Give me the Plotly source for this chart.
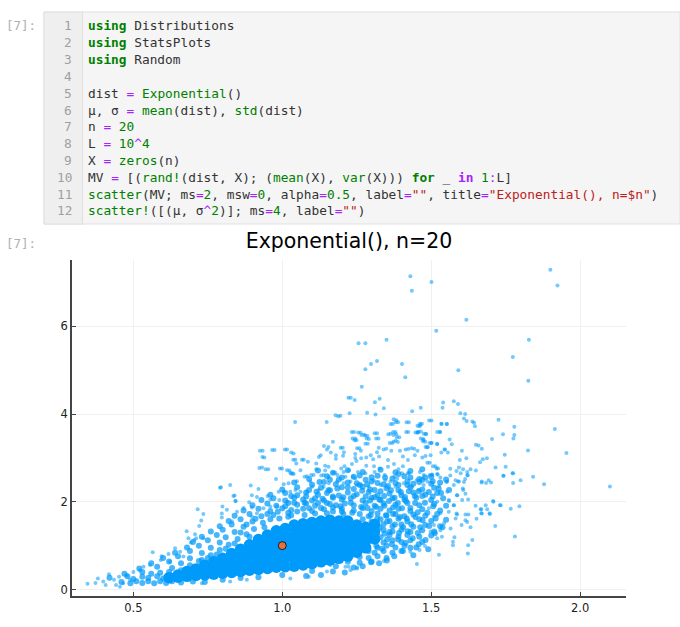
import plotly.graph_objects as go

W, H = 680, 627

# values, (mean, variance)
# solid mass in the middle: too many overlapping dots to read one by one
core_points = [
    (.62,.27),(.65,.28),(.65,.33),(.68,.3),(.68,.41),
    (.71,.32),(.71,.47),(.74,.33),(.74,.46),(.74,.55),(.77,.35),(.77,.5),(.77,.63),
    (.80,.37),(.80,.54),(.80,.71),(.83,.39),(.83,.56),(.83,.73),(.83,.82),
    (.86,.41),(.86,.58),(.86,.75),(.86,.92),(.89,.44),(.89,.61),(.89,.78),(.89,.95),(.89,1.02),
    (.92,.46),(.92,.63),(.92,.8),(.92,.97),(.92,1.14),(.95,.48),(.95,.65),(.95,.82),(.95,.99),(.95,1.16),(.95,1.24),
    (.98,.51),(.98,.68),(.98,.85),(.98,1.02),(.98,1.19),(.98,1.34),
    (1.01,.52),(1.01,.71),(1.01,.88),(1.01,1.05),(1.01,1.22),(1.01,1.39),
    (1.04,.53),(1.04,.7),(1.04,.87),(1.04,1.04),(1.04,1.21),(1.04,1.38),(1.04,1.47),
    (1.07,.56),(1.07,.73),(1.07,.9),(1.07,1.07),(1.07,1.24),(1.07,1.41),(1.07,1.5),
    (1.10,.59),(1.10,.76),(1.10,.93),(1.10,1.1),(1.10,1.27),(1.10,1.44),(1.10,1.53),
    (1.13,.63),(1.13,.8),(1.13,.97),(1.13,1.14),(1.13,1.31),(1.13,1.48),(1.13,1.56),
    (1.16,.67),(1.16,.84),(1.16,1.01),(1.16,1.18),(1.16,1.35),(1.16,1.52),(1.16,1.58),
    (1.19,.71),(1.19,.88),(1.19,1.05),(1.19,1.22),(1.19,1.39),(1.19,1.56),
    (1.22,.76),(1.22,.93),(1.22,1.1),(1.22,1.27),(1.22,1.44),(1.22,1.56),
    (1.25,.85),(1.25,.98),(1.25,1.15),(1.25,1.32),(1.25,1.47),
    (1.28,.95),(1.28,1.1),(1.28,1.27),(1.28,1.42),(1.31,1.15),(1.31,1.32),(1.31,1.48),
]
# thick but still grainy part around the mass
mid_points = [
    (1.12,2.71),(1.17,2.66),(1.22,2.72),(1.27,2.68),(1.33,2.73),(1.38,2.67),(1.43,2.7),(1.47,2.74),
    (1.09,2.52),(1.15,2.58),(1.19,2.51),(1.24,2.57),(1.28,2.5),(1.32,2.59),(1.37,2.53),(1.41,2.58),(1.46,2.52),(1.5,2.57),(1.55,2.51),
    (1.04,2.44),(1.1,2.39),(1.14,2.45),(1.18,2.4),(1.22,2.44),(1.26,2.38),(1.3,2.46),(1.34,2.4),(1.38,2.43),(1.42,2.38),(1.46,2.45),(1.5,2.41),(1.53,2.44),
    (1.0,2.28),(1.05,2.33),(1.09,2.27),(1.13,2.32),(1.16,2.26),(1.2,2.33),(1.24,2.29),(1.27,2.34),(1.31,2.27),(1.35,2.31),(1.39,2.26),(1.43,2.33),(1.47,2.28),(1.51,2.32),(1.56,2.27),
    (.96,2.16),(1.01,2.2),(1.05,2.15),(1.08,2.21),(1.12,2.16),(1.15,2.2),(1.19,2.14),(1.22,2.21),(1.25,2.17),(1.29,2.22),(1.32,2.15),(1.36,2.19),(1.4,2.15),(1.44,2.21),(1.48,2.16),(1.52,2.2),
    (.93,2.04),(.97,2.08),(1.01,2.03),(1.04,2.09),(1.07,2.05),(1.11,2.08),(1.14,2.03),(1.17,2.09),(1.2,2.05),(1.23,2.08),(1.27,2.03),(1.3,2.09),(1.33,2.04),(1.37,2.08),(1.41,2.05),(1.45,2.09),(1.5,2.04),(1.54,2.08),
    (.9,1.92),(.95,1.96),(.98,1.91),(1.02,1.97),(1.05,1.93),(1.08,1.96),(1.11,1.91),(1.15,1.97),(1.18,1.92),(1.21,1.96),(1.24,1.92),(1.28,1.97),(1.31,1.91),(1.34,1.96),(1.38,1.93),(1.42,1.97),(1.46,1.92),(1.51,1.95),(1.55,1.91),
    (.87,1.8),(.92,1.84),(.96,1.79),(1.0,1.85),(1.03,1.81),(1.07,1.84),(1.1,1.79),(1.14,1.83),(1.17,1.78),(1.2,1.84),(1.24,1.8),(1.27,1.85),(1.3,1.79),(1.33,1.84),(1.36,1.8),(1.39,1.84),(1.43,1.79),(1.47,1.83),(1.53,1.8),
    (.84,1.68),(.89,1.72),(.93,1.67),(.97,1.7),(1.02,1.66),(1.26,1.72),(1.29,1.67),(1.32,1.73),(1.35,1.68),(1.38,1.72),(1.41,1.67),(1.44,1.71),(1.48,1.68),(1.52,1.72),
    (.82,1.56),(.86,1.6),(.9,1.55),(.94,1.42),(1.25,1.5),(1.27,1.6),(1.3,1.55),(1.33,1.6),(1.36,1.56),(1.39,1.61),(1.42,1.55),(1.46,1.6),(1.5,1.56),(1.55,1.59),
    (.79,1.44),(.83,1.48),(.87,1.43),(1.28,1.48),(1.31,1.44),(1.34,1.49),(1.37,1.44),(1.4,1.48),(1.44,1.43),(1.48,1.47),(1.53,1.44),
    (.76,1.32),(.8,1.36),(.84,1.31),(.88,1.26),(1.29,1.36),(1.31,1.31),(1.34,1.36),(1.37,1.32),(1.4,1.36),(1.43,1.31),(1.47,1.35),(1.51,1.32),
    (.73,1.2),(.78,1.24),(.81,1.19),(.85,1.15),(1.3,1.24),(1.33,1.19),(1.36,1.24),(1.39,1.2),(1.42,1.24),(1.46,1.2),(1.5,1.23),
    (.7,1.08),(.75,1.12),(.79,1.07),(.82,1.02),(1.31,1.12),(1.34,1.07),(1.37,1.12),(1.4,1.08),(1.43,1.12),(1.47,1.08),
    (.68,.96),(.72,1.0),(.76,.95),(.79,.9),(1.28,1.0),(1.32,.95),(1.35,1.0),(1.38,.96),(1.41,1.0),(1.45,.96),
    (.64,.84),(.69,.88),(.73,.83),(.76,.78),(1.29,.88),(1.31,.84),(1.34,.88),(1.37,.84),(1.4,.88),
    (.6,.72),(.65,.76),(.69,.71),(.73,.67),(1.26,.74),(1.29,.72),(1.32,.76),(1.35,.72),
    (.56,.6),(.62,.64),(.66,.6),(.69,.55),(1.22,.63),(1.26,.61),(1.3,.64),
    (.52,.48),(.58,.52),(.63,.49),(.66,.44),(1.18,.53),(1.24,.5),(1.27,.53),
    (.47,.36),(.53,.4),(.56,.36),(.59,.38),(.62,.4),(1.1,.42),(1.17,.41),(1.21,.39),
    (.42,.27),(.48,.3),(.5,.24),(.53,.29),(.55,.26),(.58,.3),(.6,.25),(1.0,.33),(1.08,.31),(1.13,.33),
    (.46,.17),(.49,.14),(.51,.19),(.53,.15),(.55,.19),(.57,.14),(.59,.19),(.61,.15),(.63,.19),(.66,.16),(.7,.18),(.74,.17),(.8,.22),(.86,.26),(.92,.28),
    (1.335,.93),(1.352,1.14),(1.316,.99),(1.343,1.27),(1.368,1.03),(1.389,1.14),(1.36,1.31),(1.327,1.41),(1.392,1.29),(1.414,1.06),
    (1.421,1.33),(1.378,1.48),(1.352,1.55),(1.406,1.42),(1.438,1.17),(1.455,1.29),(1.433,1.49),(1.463,1.42),(1.395,1.65),(1.372,1.72),
    (1.348,1.69),(1.319,1.62),(1.297,1.7),(1.418,1.62),(1.447,1.65),(1.471,1.58),(1.493,1.45),(1.512,1.28),(1.481,1.13),(1.458,1.03),
    (1.43,.95),(1.405,.88),(1.376,.76),(1.351,.66),(1.325,.6),(1.298,.62),(1.44,.78),(1.49,.92),
    (1.286,1.86),(1.315,1.88),(1.343,1.91),(1.372,1.87),(1.402,1.85),(1.43,1.86),(1.455,1.76),(1.487,1.75),(1.515,1.62),(1.538,1.42),
    (1.507,1.9),(1.479,1.98),(1.446,1.97),(1.415,2.02),(1.388,1.97),(1.358,2.02),(1.326,2.05),(1.295,2.03),(1.265,1.88),(1.235,1.75),
    (1.205,1.72),(1.28,2.12),(1.31,2.1),(1.342,2.13),(1.377,2.09),(1.412,2.11),(1.445,2.13),(1.47,2.13),(1.505,2.12),(1.268,2.25),
    (1.295,2.28),(1.33,2.24),(1.365,2.26),(1.398,2.22),(1.425,2.24),(1.458,2.24),(1.492,2.22),(1.533,2.2),(1.24,2.13),(1.205,2.1),
    (1.17,2.12),(1.135,2.07),(1.1,2.03),(1.075,1.98),(1.04,1.98),(1.01,1.9),(1.12,1.97),(1.16,1.95),(1.195,1.9),(1.23,1.98),
    (1.09,1.85),(1.05,1.78),(1.13,1.86),(1.17,1.87),(1.2,1.78),(1.02,1.75),(.985,1.77),(.95,1.72),(.91,1.61),(.935,1.52),
    (.96,1.6),(.99,1.62),(1.03,1.69),(1.075,1.7),(1.11,1.73),(1.15,1.74),(.88,1.48),(.905,1.38),(.86,1.3),(.89,1.2),
    (.84,1.05),(.81,.93),(.78,.8),(.75,.72),(.72,.65),
    (1.155,2.26),(1.115,2.23),(1.08,2.12),(1.03,2.13),(1.185,2.3),(1.22,2.33),(1.25,2.42),(1.285,2.4),(1.32,2.43),(1.355,2.36),
    (1.39,2.38),(1.42,2.47),(1.44,2.41),(1.47,2.5),(1.505,2.47),(1.525,2.3),(1.16,2.5),(1.125,2.45),(1.2,2.55),(1.26,2.6),
    (1.3,2.56),(1.345,2.55),(1.39,2.63),(1.43,2.55),(1.48,2.55),
]
sample_points = [
    (1.430,7.14),(1.435,6.81),(1.501,7.01),(1.900,7.29),(1.924,6.93),(1.618,6.15),(1.517,5.90),(1.256,5.61),(1.279,5.61),
    (1.350,5.69),(1.828,5.69),(1.774,5.30),(1.298,5.14),(1.318,5.21),(1.279,5.02),(1.402,5.14),(1.413,4.84),(1.591,5.00),
    (1.826,4.76),(1.267,4.62),(1.230,4.37),(1.243,4.32),(1.327,4.35),(1.311,4.27),(1.341,4.13),(1.465,4.14),(1.436,4.06),
    (1.226,4.02),(1.285,4.03),(1.313,3.99),(1.195,3.96),(1.540,4.26),(1.538,4.14),(1.576,4.29),(1.590,4.23),(1.598,4.02),
    (1.614,4.0),(1.610,3.90),(1.619,3.84),(1.638,3.83),(1.644,3.80),(1.647,3.72),(1.726,3.87),(1.779,3.71),(1.915,3.66),
    (1.741,3.54),(1.779,3.52),(1.776,3.44),(1.704,3.43),(1.501,3.85),(1.534,3.78),(1.552,3.77),(1.529,3.59),(1.562,3.42),
    (1.569,3.31),(1.650,3.30),(1.659,3.28),(1.670,3.21),(1.383,3.86),(1.389,3.81),(1.371,3.77),(1.425,3.81),(1.469,3.78),
    (1.464,3.75),(1.461,3.72),(1.423,3.59),(1.455,3.59),(1.454,3.57),(1.465,3.60),(1.483,3.55),(1.380,3.59),(1.383,3.54),
    (1.364,3.55),(1.393,3.47),(1.318,3.56),(1.323,3.44),(1.241,3.59),(1.263,3.57),(1.275,3.53),(1.286,3.50),(1.291,3.43),
    (1.245,3.44),(1.249,3.40),(1.287,3.32),(1.369,3.34),(1.381,3.39),(1.388,3.36),(1.473,3.43),(1.480,3.37),(1.501,3.34),
    (1.520,3.32),(1.489,3.25),(1.545,3.19),(1.203,3.23),(1.259,3.22),(1.324,3.23),(1.349,3.21),(1.423,3.20),(1.443,3.21),
    (1.222,4.37),(1.179,3.97),(1.188,3.95),(1.043,3.82),(1.149,3.82),(1.493,3.85),(1.417,3.81),(1.364,3.77),(1.374,3.88),
    (1.381,3.81),(1.462,3.78),(1.454,3.73),(1.233,3.59),(1.255,3.58),(1.266,3.52),(1.278,3.51),(1.283,3.44),(1.310,3.56),
    (1.315,3.44),(1.356,3.54),(1.372,3.59),(1.374,3.52),(1.385,3.47),(1.416,3.59),(1.447,3.58),(1.457,3.59),(1.475,3.55),
    (1.465,3.44),(1.472,3.38),(1.494,3.34),(1.520,3.59),(1.236,3.44),(1.243,3.40),(1.279,3.32),(1.361,3.34),(1.374,3.37),
    (1.170,3.37),(1.140,3.27),(1.155,3.25),(1.150,3.19),(1.196,3.23),(1.251,3.22),(.925,3.16),(.966,3.18),(1.009,3.19),
    (1.030,3.12),(.933,3.02),(1.037,2.96),(1.066,2.96),(1.086,2.91),(1.047,2.87),(1.129,3.06),(1.123,3.02),(1.163,3.12),
    (1.207,3.13),(1.204,3.05),(1.180,3.06),(1.180,2.98),(1.264,3.16),(1.245,3.09),(1.245,3.00),(1.297,3.06),(1.318,3.13),
    (1.340,3.19),(1.366,3.16),(1.395,3.16),(1.414,3.19),(1.434,3.22),(1.454,3.16),(1.481,3.25),(.923,2.77),(.944,2.74),
    (.992,2.76),(1.016,2.72),(1.030,2.64),(1.061,2.72),(1.114,2.87),(1.114,2.74),(1.144,2.82),(1.155,2.80),(1.144,2.71),
    (1.171,2.66),(1.198,2.76),(1.209,2.81),(1.234,2.86),(1.223,2.72),(1.249,2.93),(1.265,2.99),(1.282,3.01),(1.305,2.97),
    (1.325,3.03),(1.355,2.95),(1.375,2.86),(1.405,3.03),(1.422,2.95),(1.445,3.06),(1.470,3.01),(1.487,2.89),(1.506,2.81),
    (1.282,2.82),(1.308,2.81),(1.327,2.76),(1.355,2.80),(1.390,2.74),(1.405,2.81),(1.422,2.65),(1.097,2.61),(1.075,2.57),
    (.979,2.52),(1.131,2.60),(1.185,2.61),(1.237,2.57),(1.254,2.68),(1.310,2.68),(1.344,2.61),(1.377,2.57),(1.462,2.68),
    (1.495,2.61),(1.518,2.76),
    (1.825,3.17),(1.954,3.11),(1.747,3.07),(1.530,3.59),(1.535,3.77),(1.553,3.77),(1.501,3.34),(1.520,3.31),(1.534,3.12),
    (1.546,3.19),(1.556,3.12),(1.603,3.16),(1.618,2.99),(1.596,2.95),(1.687,2.99),(1.673,2.97),(1.664,2.90),(1.716,2.78),
    (1.750,2.80),(1.773,2.65),(1.742,2.59),(1.842,2.57),(1.800,2.49),(1.775,2.43),(1.879,2.40),(2.100,2.35),(1.693,2.49),
    (1.670,2.46),(1.684,2.43),(1.701,2.44),(1.650,2.71),(1.632,2.74),(1.607,2.74),(1.593,2.78),(1.585,2.70),(1.564,2.75),
    (1.623,2.60),(1.621,2.68),(1.564,2.60),(1.614,2.52),(1.610,2.45),(1.582,2.49),(1.593,2.46),(1.551,2.45),(1.576,2.38),
    (1.606,2.30),(1.615,2.18),(1.587,2.15),(1.624,2.05),(1.604,2.04),(1.560,2.02),(1.708,2.02),(1.733,1.92),(1.649,1.91),
    (1.683,1.92),(1.796,1.90),(1.767,1.84),(1.668,1.83),(1.688,1.83),(1.670,1.73),(1.697,1.72),(1.615,1.71),(1.587,1.71),
    (1.652,1.61),(1.576,1.92),(1.514,2.81),(1.523,2.76),(1.503,2.62),(1.520,2.63),(1.495,2.89),(1.481,3.04),(1.498,3.06),
    (1.486,3.24),(1.475,3.41),(1.482,3.54),
    (1.743,2.59),(1.775,2.65),(1.669,2.44),(1.731,1.92),(1.709,2.0),(1.666,1.83),(1.668,1.74),(1.696,1.74),(1.625,1.71),
    (1.715,1.45),(1.781,1.21),(1.615,1.58),(1.621,1.54),(1.632,1.42),(1.602,1.47),(1.585,1.73),(1.638,1.13),(1.624,1.01),
    (1.578,1.19),(1.573,1.09),(1.573,1.01),(1.526,.79),(1.623,.82),(1.452,.58),(1.536,1.20),(1.520,1.17),(1.479,.99),
    (1.461,.90),(1.430,.86),(1.341,.65),(1.251,.50),(1.223,.52),(1.565,1.39),(1.531,1.35),(1.509,1.47),(1.498,1.32),
    (1.543,1.51),(1.582,1.62),(1.559,1.77),(1.576,1.92),(1.531,1.74),(1.509,1.66),(1.492,1.85),(1.520,2.0),(1.559,2.04),
    (1.587,2.15),(1.608,2.27),(1.590,2.46),(1.621,2.61),(1.599,2.65),(1.554,2.46),(1.526,2.36),(1.531,2.55),(1.503,2.61),
    (1.522,2.62),(1.554,2.23),(1.487,2.46),(1.475,2.61),(1.451,2.49),(1.425,2.65),(1.386,2.53),(1.402,2.65),(1.346,2.49),
    (1.307,2.49),(1.279,2.65),(1.245,2.53),(1.212,2.57),(1.475,2.38),(1.458,2.27),(1.436,2.34),(1.408,2.42),(1.380,2.34),
    (1.363,2.46),(1.330,2.38),(1.290,2.34),(1.262,2.38),(1.229,2.46),
    (.794,2.33),(.825,2.38),(.894,2.37),(.920,2.29),(.840,2.14),(.844,2.02),(.898,2.15),(.915,2.11),(.951,2.13),(.960,2.05),
    (.889,1.99),(.799,1.89),(.814,1.82),(.797,1.73),(.797,1.64),(.848,1.77),(.870,1.86),(.898,1.87),(.716,1.83),(.735,1.72),
    (.728,1.57),(.679,1.33),(.721,1.45),(.707,1.26),(.685,1.17),(.693,1.07),(.711,1.17),(.831,1.55),(.898,1.66),(.915,1.74),
    (.937,1.85),(.960,1.89),(.988,2.23),(.990,2.04),(1.005,2.40),(1.021,2.42),(1.049,2.47),(1.027,2.66),(1.038,2.63),
    (1.083,2.58),(1.105,2.61),(1.139,2.61),(1.156,2.57),(1.178,2.66),(1.206,2.68),(1.005,2.23),(1.027,2.23),(1.044,2.27),
    (1.061,2.23),(1.094,2.46),(1.100,2.34),(1.083,2.23),(1.122,2.27),(1.139,2.34),(1.156,2.42),(1.184,2.46),(1.206,2.42),
    (1.251,2.38),(.982,1.89),(1.016,2.0),(1.229,.44),(1.150,.41),(1.089,.29),(1.027,.25),(.881,.22),(.825,.18),(.730,.14),
    (1.161,.56),(1.212,.52),(1.251,.48),
    (.346,.13),(.373,.15),(.381,.25),(.418,.35),(.399,.18),(.407,.10),(.435,.22),(.442,.10),(.455,.06),(.452,.29),(.478,.32),
    (.489,.22),(.466,.14),(.500,.40),(.522,.44),(.534,.52),(.556,.56),(.565,.85),(.595,.76),(.592,.67),(.618,.81),(.640,.94),
    (.657,.86),(.623,.63),(.668,.75),(.705,1.13),(.735,1.17),(.791,2.32),(.836,2.13),(.842,2.02),(.934,3.16),(.974,3.18),
    (1.016,3.19),(1.038,3.10),(.940,3.01),(.932,2.78),(.953,2.74),(.999,2.76),(1.024,2.71),(1.035,2.65),(1.044,2.96),(1.072,2.96),
]
mu, sigma2 = [1.0], [1.0]

xticks = [0.5, 1.0, 1.5, 2.0]
xtick_labels = ["0.5", "1.0", "1.5", "2.0"]
yticks = [0, 2, 4, 6]
title = "Exponential(), n=20"

KW = "#008000"
OP = "#AA22FF"
STR = "#BA2121"
BLUE = "#009AFA"


def c(color, s, bold=False):
    s = f'<span style="color:{color}">{s}</span>'
    return f"<b>{s}</b>" if bold else s


eq = c(OP, "=")
code_lines = [
    c(KW, "using", True) + " Distributions",
    c(KW, "using", True) + " StatsPlots",
    c(KW, "using", True) + " Random",
    "",
    "dist " + eq + " " + c(KW, "Exponential") + "()",
    "μ, σ " + eq + " " + c(KW, "mean") + "(dist), " + c(KW, "std") + "(dist)",
    "n " + eq + " " + c(KW, "20"),
    "L " + eq + " " + c(KW, "10") + c(OP, "^") + c(KW, "4"),
    "X " + eq + " " + c(KW, "zeros") + "(n)",
    "MV " + eq + " [(" + c(KW, "rand!") + "(dist, X); (" + c(KW, "mean") + "(X), " + c(KW, "var") + "(X))) "
    + c(KW, "for", True) + " _ " + c(OP, "in", True) + " " + c(KW, "1") + c(OP, ":") + "L]",
    c(KW, "scatter") + "(MV; ms" + eq + c(KW, "2") + ", msw" + eq + c(KW, "0") + ", alpha" + eq + c(KW, "0.5")
    + ", label" + eq + c(STR, '""') + ", title" + eq + c(STR, '"Exponential(), n=$n"') + ")",
    c(KW, "scatter!") + "([(μ, σ" + c(OP, "^") + c(KW, "2") + ")]; ms" + eq + c(KW, "4") + ", label" + eq + c(STR, '""') + ")",
]

fig = go.Figure()
core_x, core_y = zip(*core_points)
mid_x, mid_y = zip(*mid_points)
sample_x, sample_y = zip(*sample_points)
fig.add_trace(go.Scatter(x=core_x, y=core_y, mode="markers",
                         marker=dict(size=11.5, color=BLUE, line_width=0)))
fig.add_trace(go.Scatter(x=mid_x, y=mid_y, mode="markers",
                         marker=dict(size=6, color=BLUE, opacity=0.72, line_width=0)))
fig.add_trace(go.Scatter(x=sample_x, y=sample_y, mode="markers",
                         marker=dict(size=4, color=BLUE, opacity=0.55, line_width=0)))
fig.add_trace(go.Scatter(x=mu, y=sigma2, mode="markers",
                         marker=dict(size=8, color="#E26F46", line=dict(color="#1a1a1a", width=1))))

def px(x):
    return x / W


def py(y):
    return 1 - y / H


# notebook cell behind the chart
shapes = [
    dict(type="rect", xref="paper", yref="paper", x0=px(44), x1=px(680), y0=py(12), y1=py(224),
         fillcolor="#f5f5f5", line=dict(color="#e0e0e0", width=1), layer="below"),
    dict(type="rect", xref="paper", yref="paper", x0=px(44), x1=px(82.5), y0=py(12), y1=py(224),
         fillcolor="#efefef", line=dict(color="#e0e0e0", width=1), layer="below"),
]

annotations = []
for prompt_y in [26, 244]:
    annotations.append(dict(text="[7]:", x=px(38), y=py(prompt_y), xref="paper", yref="paper", showarrow=False,
                            xanchor="right", yanchor="middle",
                            font=dict(family="DejaVu Sans Mono", size=12.5, color="#b0b0b0")))
for i, line in enumerate(code_lines):
    line_y = 26 + i * 16.8
    annotations.append(dict(text=str(i + 1), x=px(74), y=py(line_y), xref="paper", yref="paper", showarrow=False,
                            xanchor="right", yanchor="middle",
                            font=dict(family="DejaVu Sans Mono", size=12.8, color="#a0a0a0")))
    if line:
        annotations.append(dict(text=line, x=px(85.5), y=py(line_y), xref="paper", yref="paper", showarrow=False,
                                xanchor="left", yanchor="middle", align="left",
                                font=dict(family="DejaVu Sans Mono", size=12.8, color="#333333")))

fig.update_layout(
    width=W, height=H,
    margin=dict(l=0, r=0, t=0, b=0),
    paper_bgcolor="white", plot_bgcolor="white",
    showlegend=False,
    title=dict(text=title, x=349 / W, xanchor="center", y=py(241), yanchor="middle",
               font=dict(family="DejaVu Sans", size=20.5, color="black")),
    shapes=shapes, annotations=annotations,
    font=dict(family="DejaVu Sans", color="#222222"),
)
fig.update_xaxes(domain=[px(72), px(626)], range=[0.294, 2.154], tickvals=xticks, ticktext=xtick_labels,
                 showgrid=True, gridcolor="#f0f0f0", gridwidth=1, zeroline=False,
                 showline=True, linecolor="#444444", linewidth=1.5,
                 ticks="inside", ticklen=4, tickcolor="#444444", tickfont=dict(size=11.5))
fig.update_yaxes(domain=[1 - 596 / H, 1 - 260 / H], range=[-0.148, 7.51], tickvals=yticks,
                 showgrid=True, gridcolor="#f0f0f0", gridwidth=1, zeroline=False,
                 showline=True, linecolor="#444444", linewidth=1.5,
                 ticks="inside", ticklen=4, tickcolor="#444444", tickfont=dict(size=11.5))

# the page's default body margin would push the figure off by 8px
fig.write_html("out.html", config=dict(displayModeBar=False), post_script="document.body.style.margin = '0';")
